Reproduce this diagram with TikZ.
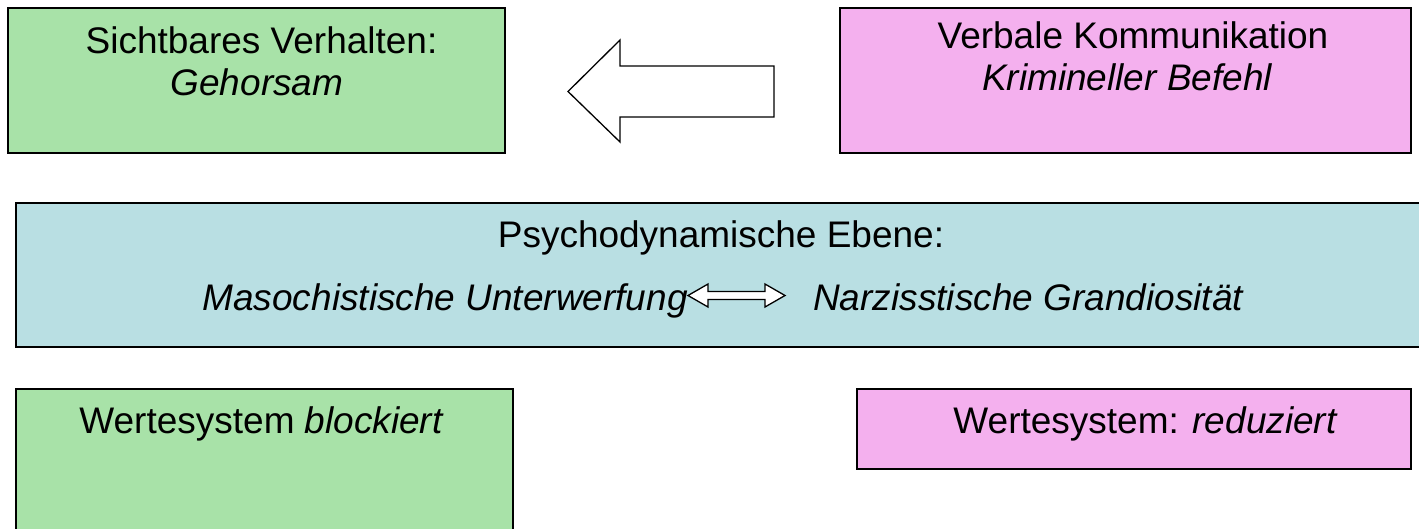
\documentclass[tikz,border=0pt]{standalone}
\usepackage{fontspec}
\setmainfont{Liberation Sans}
\definecolor{boxgreen}{RGB}{168,226,168}
\definecolor{boxpink}{RGB}{244,176,238}
\definecolor{boxblue}{RGB}{185,223,227}
\begin{document}
\begin{tikzpicture}[x=1pt,y=-1pt,
  panel/.style={draw=black,line width=1.5pt,inner sep=0pt,outer sep=0pt},
  txt/.style={anchor=base,inner sep=0pt,font=\fontsize{37}{42}\selectfont},
  blockarrow/.style={draw=black,fill=white,line width=1.3pt,line join=miter}]
\useasboundingbox (0,0) rectangle (1419,528);
\clip (0,0) rectangle (1419,528);
% boxes
\node[panel,fill=boxgreen,minimum width=497pt,minimum height=145pt] (sb) at (256.5,80.5) {};
\node[panel,fill=boxpink,minimum width=571pt,minimum height=145pt] (vk) at (1125.5,80.5) {};
\node[panel,fill=boxblue,minimum width=1410pt,minimum height=144pt] (pd) at (721,275) {};
\node[panel,fill=boxgreen,minimum width=497pt,minimum height=160pt] (wb) at (264.5,469) {};
\node[panel,fill=boxpink,minimum width=554pt,minimum height=80pt] (wr) at (1134,429) {};
% texts
\node[txt] (sb1) at (261.5,53) {Sichtbares Verhalten:};
\node[txt] (sb2) at (257,95) {\itshape Gehorsam};
\node[txt] (vk1) at (1133,48) {Verbale Kommunikation};
\node[txt] (vk2) at (1127,90) {\itshape Krimineller Befehl};
\node[txt] (pd1) at (721,247) {Psychodynamische Ebene:};
\node[txt,anchor=base east] (pd2) at (688,310) {\itshape Masochistische Unterwerfung};
\node[txt,anchor=base west] (pd3) at (813,310) {\itshape Narzisstische Grandiosität};
\node[txt] (wb1) at (261,433) {Wertesystem \itshape blockiert};
\node[txt] (wr1) at (1145,433) {Wertesystem: \itshape reduziert};
% big block arrow (pointing left)
\draw[blockarrow] (568,91.5) -- (620,40) -- (620,66) -- (774,66) -- (774,117) -- (620,117) -- (620,142) -- cycle;
% double block arrow
\draw[blockarrow] (688,295.5) -- (708,284) -- (708,291.5) -- (765,291.5) -- (765,284) -- (785,295.5) -- (765,307) -- (765,299.5) -- (708,299.5) -- (708,307) -- cycle;
\end{tikzpicture}
\end{document}
